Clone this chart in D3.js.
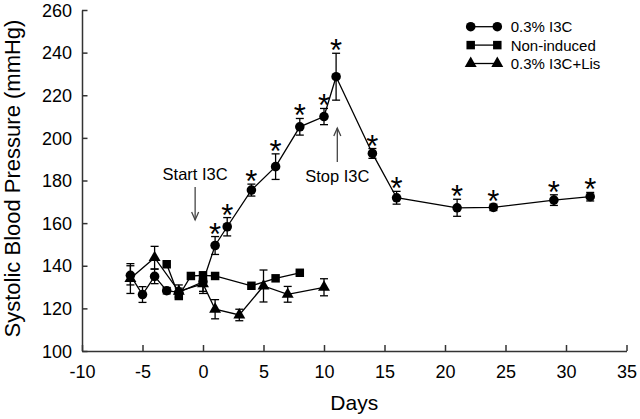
<!DOCTYPE html>
<html>
<head>
<meta charset="utf-8">
<script src="https://cdn.jsdelivr.net/npm/d3@7"></script>
<style>
  body { margin: 0; background: #fff; }
  text { font-family: "Liberation Sans", Arial, sans-serif; fill: #000; }
</style>
</head>
<body>
<div id="chart"></div>
<script>
// values (days, mmHg, +/- SEM)
var i3cDays = [-6, -5, -4, -3, -2, 0, 1, 2, 4, 6, 8, 10, 11, 14, 16, 21, 24, 29, 32];
var i3cBP   = [135.5, 126.5, 135, 128.3, 127.5, 132.5, 149.5, 158.3, 175.5, 186.5, 205.2, 210, 228.7, 192.7, 171.9, 167.2, 167.4, 170.8, 172.4];
var i3cErr  = [4.5, 3.7, 3.4, 1.5, 2, 4.5, 4.2, 4.3, 2.8, 6, 3.9, 3.8, 11, 2.3, 3, 4, 1.5, 2.5, 2];
var i3cSig  = [0, 0, 0, 0, 0, 0, 1, 1, 1, 1, 1, 1, 1, 1, 1, 1, 1, 1, 1];

var niDays = [-3, -2, -1, 0, 1, 4, 6, 8];
var niBP   = [140.7, 125.8, 135.2, 135.5, 135.2, 130.6, 134.1, 136.7];
var niErr  = [0, 0, 0, 0, 0, 0, 0, 0];

var lisDays = [-6, -4, -2, 0, 1, 3, 5, 7, 10];
var lisBP   = [134, 143.8, 128, 131.5, 119.6, 116.9, 130.5, 126.6, 129.9];
var lisErr  = [7, 5.3, 3, 4.5, 4.5, 2.7, 7.5, 3.7, 4];

var xTicks = [-10, -5, 0, 5, 10, 15, 20, 25, 30, 35];
var yTicks = [100, 120, 140, 160, 180, 200, 220, 240, 260];

var seriesNames = ["0.3% I3C", "Non-induced", "0.3% I3C+Lis"];
var startDay = -0.65, stopDay = 11.1;

var width = 640, height = 419;
var margin = { top: 10, right: 13.5, bottom: 68, left: 82 };

var svg = d3.select("#chart").append("svg")
    .attr("width", width)
    .attr("height", height);

var x = d3.scaleLinear().domain([-10, 35]).range([margin.left, width - margin.right]);
var y = d3.scaleLinear().domain([100, 260]).range([height - margin.bottom, margin.top]);

// axes (plain hyphen for negatives, like the original)
var plain = function (d) { return String(d); };
var xAxis = d3.axisBottom(x).tickValues(xTicks).tickFormat(plain).tickSizeInner(-6).tickSizeOuter(0).tickPadding(14);
var yAxis = d3.axisLeft(y).tickValues(yTicks).tickFormat(plain).tickSizeInner(-5.5).tickSizeOuter(0).tickPadding(10);

var gx = svg.append("g").attr("transform", "translate(0," + y(100) + ")").call(xAxis);
var gy = svg.append("g").attr("transform", "translate(" + x(-10) + ",0)").call(yAxis);
[gx, gy].forEach(function (g) {
    g.select(".domain").attr("stroke", "#333").attr("stroke-width", 1.5);
    g.selectAll(".tick line").attr("stroke", "#333").attr("stroke-width", 1.5);
    g.selectAll(".tick text").attr("font-size", 18).attr("font-family", "Liberation Sans, Arial, sans-serif").attr("fill", "#000");
});
gx.selectAll(".tick text").attr("dy", "0.71em");
gy.selectAll(".tick text").attr("dy", "0.34em");

svg.append("text")
    .attr("x", (x(-10) + x(35)) / 2)
    .attr("y", 410)
    .attr("text-anchor", "middle")
    .attr("font-size", 21)
    .text("Days");

svg.append("text")
    .attr("transform", "translate(20," + ((y(100) + y(260)) / 2 - 2) + ") rotate(-90)")
    .attr("text-anchor", "middle")
    .attr("font-size", 22)
    .text("Systolic Blood Pressure (mmHg)");

function toPoints(days, vals, errs) {
    return days.map(function (d, i) { return { day: d, v: vals[i], e: errs[i] }; });
}

var line = d3.line().x(function (d) { return x(d.day); }).y(function (d) { return y(d.v); });

function drawSeries(pts, symbol, size) {
    var g = svg.append("g");
    g.append("path").datum(pts)
        .attr("d", line)
        .attr("fill", "none")
        .attr("stroke", "#000")
        .attr("stroke-width", 1.3);

    var eb = g.selectAll(".eb").data(pts.filter(function (d) { return d.e > 0; })).enter().append("g");
    eb.append("line")
        .attr("x1", function (d) { return x(d.day); }).attr("x2", function (d) { return x(d.day); })
        .attr("y1", function (d) { return y(d.v + d.e); }).attr("y2", function (d) { return y(d.v - d.e); })
        .attr("stroke", "#000").attr("stroke-width", 1.3);
    [1, -1].forEach(function (s) {
        eb.append("line")
            .attr("x1", function (d) { return x(d.day) - 4; }).attr("x2", function (d) { return x(d.day) + 4; })
            .attr("y1", function (d) { return y(d.v + s * d.e); }).attr("y2", function (d) { return y(d.v + s * d.e); })
            .attr("stroke", "#000").attr("stroke-width", 1.3);
    });

    g.selectAll(".m").data(pts).enter().append("path")
        .attr("d", d3.symbol().type(symbol).size(size))
        .attr("transform", function (d) { return "translate(" + x(d.day) + "," + y(d.v) + ")"; })
        .attr("fill", "#000");
    return g;
}

var i3cPts = toPoints(i3cDays, i3cBP, i3cErr);
drawSeries(i3cPts, d3.symbolCircle, 72);
drawSeries(toPoints(lisDays, lisBP, lisErr), d3.symbolTriangle, 62);
drawSeries(toPoints(niDays, niBP, niErr), d3.symbolSquare, 72);

// significance stars
svg.selectAll(".star").data(i3cPts.filter(function (d, i) { return i3cSig[i]; }))
    .enter().append("text")
    .attr("x", function (d) { return x(d.day); })
    .attr("y", function (d) { return y(d.v + d.e) + 8; })
    .attr("text-anchor", "middle")
    .attr("font-size", 31)
    .text("*");

// annotations
function arrow(day, y1, y2) {
    var ax = x(day);
    svg.append("line").attr("x1", ax).attr("x2", ax).attr("y1", y1).attr("y2", y2)
        .attr("stroke", "#444").attr("stroke-width", 1.3);
    var dir = y2 > y1 ? -1 : 1;
    svg.append("path")
        .attr("d", "M" + (ax - 3.5) + "," + (y2 + dir * 8) + "L" + ax + "," + y2 + "L" + (ax + 3.5) + "," + (y2 + dir * 8))
        .attr("fill", "none").attr("stroke", "#444").attr("stroke-width", 1.3);
}
svg.append("text").attr("x", x(startDay)).attr("y", 180).attr("text-anchor", "middle")
    .attr("font-size", 16.5).text("Start I3C");
arrow(startDay, 187, 220);
svg.append("text").attr("x", x(stopDay)).attr("y", 182).attr("text-anchor", "middle")
    .attr("font-size", 16.5).text("Stop I3C");
arrow(stopDay, 162, 128);

// legend
var legSyms = [d3.symbolCircle, d3.symbolSquare, d3.symbolTriangle];
var legSizes = [72, 72, 62];
var leg = svg.append("g");
seriesNames.forEach(function (name, i) {
    var ly = 26.7 + i * 18.4;
    leg.append("line").attr("x1", 470.7).attr("x2", 497.3).attr("y1", ly).attr("y2", ly)
        .attr("stroke", "#000").attr("stroke-width", 1.3);
    [470.7, 497.3].forEach(function (lx) {
        leg.append("path").attr("d", d3.symbol().type(legSyms[i]).size(legSizes[i]))
            .attr("transform", "translate(" + lx + "," + ly + ")").attr("fill", "#000");
    });
    leg.append("text").attr("x", 510.7).attr("y", ly + 5.5).attr("font-size", 15).text(name);
});
</script>
</body>
</html>
